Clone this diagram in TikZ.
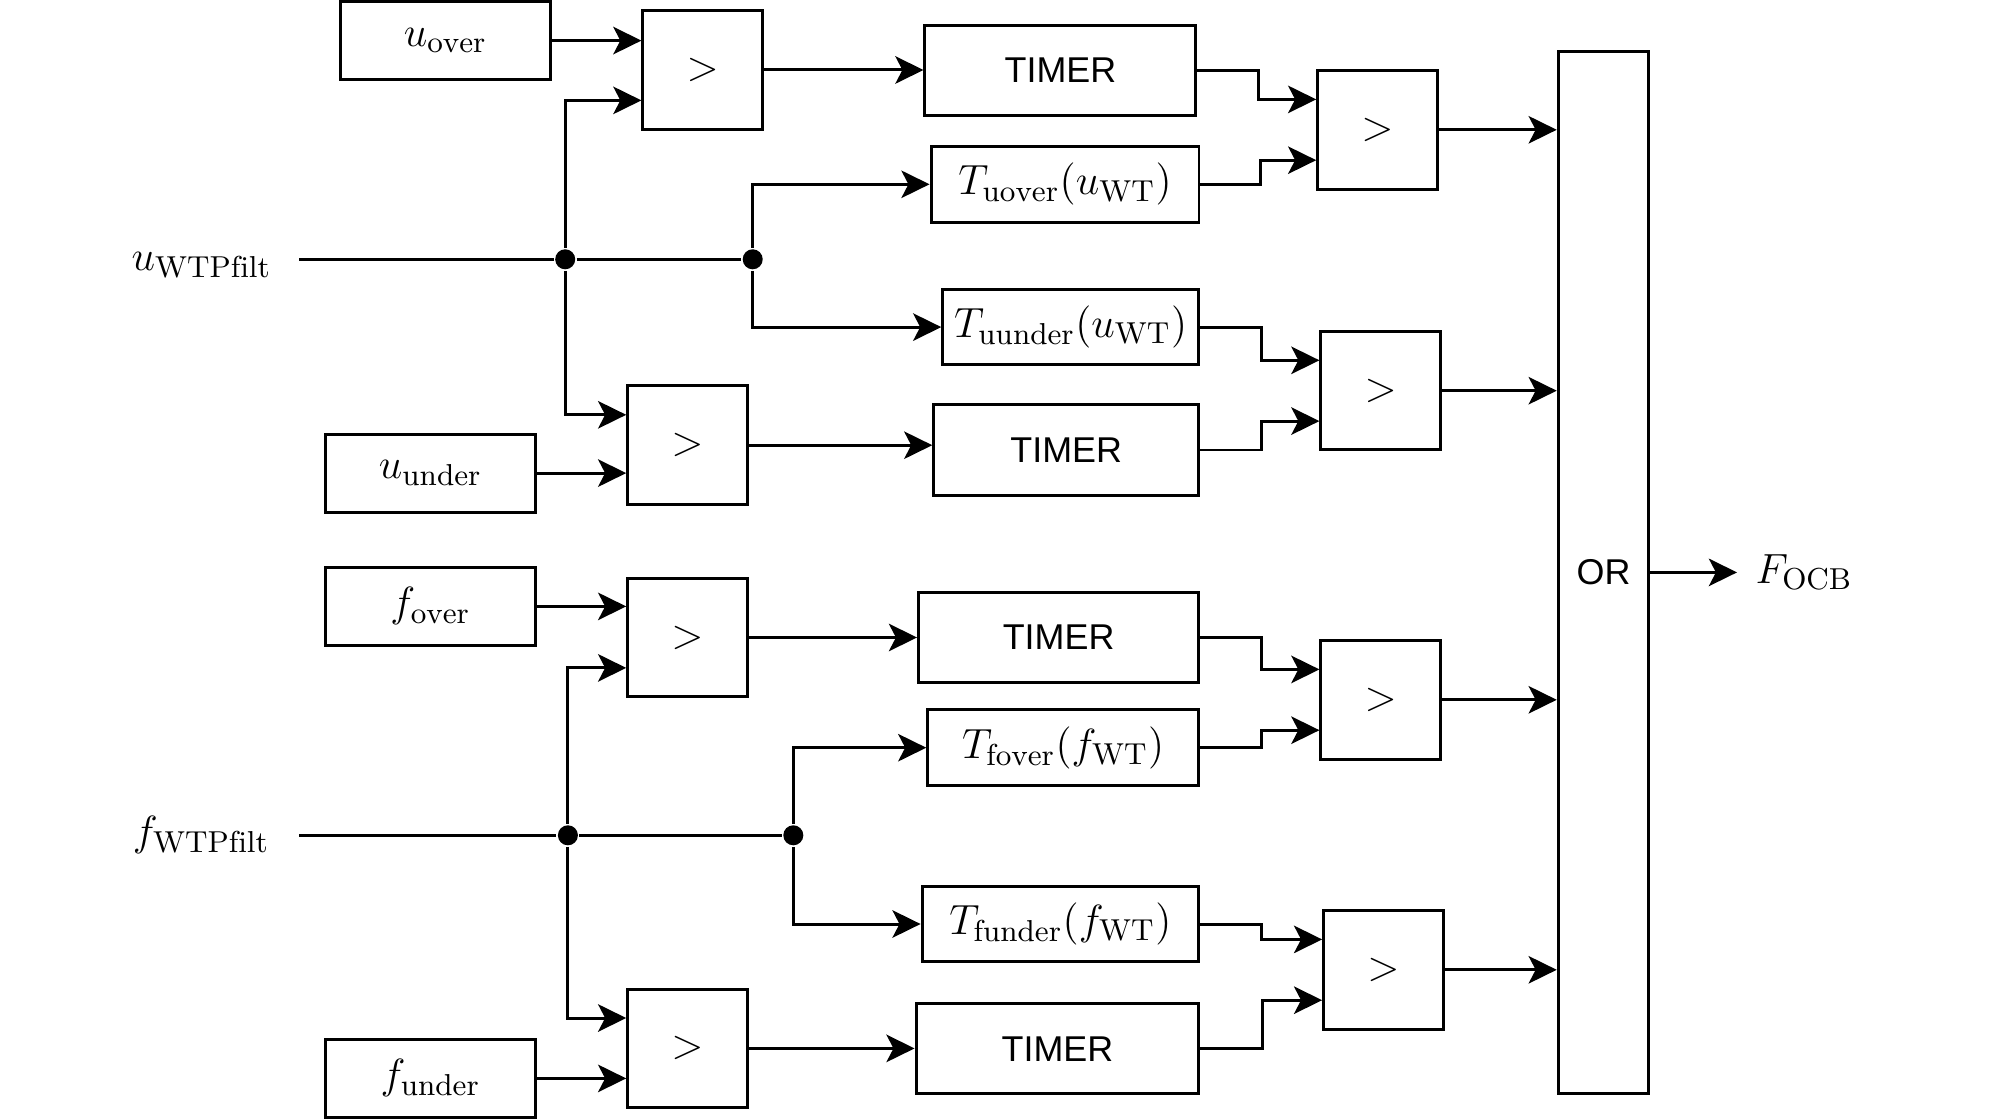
\documentclass[tikz,border=0pt]{standalone}
\usepackage{fontspec}
\setsansfont{Liberation Sans}
\usepackage{tikz}
\usetikzlibrary{arrows.meta,calc,positioning}
\tikzset{
  blk/.style={draw, inner sep=0pt, minimum width=2.1cm, minimum height=0.78cm,
    font=\fontsize{12.3}{14}\selectfont},
  cmp/.style={blk, minimum width=1.195cm, minimum height=1.185cm},
  timer/.style={blk, minimum height=0.9cm, font=\sffamily\fontsize{10.2}{12}\selectfont},
  fun/.style={blk, minimum height=0.755cm},
  dot/.style={circle, fill, inner sep=0pt, minimum size=0.2cm},
  lbl/.style={inner sep=0pt, font=\fontsize{12.3}{14}\selectfont}}

\begin{document}
\begin{tikzpicture}[x=0.01cm, y=-0.01cm, line width=0.85pt,
    >={Stealth[length=8pt, width=7.8pt, inset=2pt]}]
  \useasboundingbox (0,0) rectangle (1995,1119);
  % voltage part
  \node[blk] (u_over)  at (445.5,40.6)  {$u_{\mathrm{over}}$};
  \node[blk] (u_under) at (430.5,473.1) {$u_{\mathrm{under}}$};
  \node[cmp] (cmp_1) at (702.7,70)    {$>$};
  \node[cmp] (cmp_3) at (687.5,445.2) {$>$};
  \node[timer, minimum width=2.707cm] (tim_1) at (1060.4,70.2) {TIMER};
  \node[timer, minimum width=2.647cm] (tim_2) at (1066.2,450)  {TIMER};
  \node[fun, minimum width=2.678cm] (t_1) at (1065,184.3)   {$T_{\mathrm{uover}}(u_{\mathrm{WT}})$};
  \node[fun, minimum width=2.557cm] (t_2) at (1070.7,327.1) {$T_{\mathrm{uunder}}(u_{\mathrm{WT}})$};
  \node[cmp] (cmp_2) at (1377.5,129.8) {$>$};
  \node[cmp] (cmp_4) at (1380.7,390.7) {$>$};
  \coordinate (u_in) at (299,259.3);
  \node[dot] (j_1) at (565.2,259.3) {};
  \node[dot] (j_2) at (752.7,259.3) {};
  \node[lbl, left=0.26cm of u_in, yshift=-1.6pt] (u_wtp) {$u_{\mathrm{WTPfilt}}$};

  % frequency part
  \node[blk] (f_over)  at (430.5,606.4)  {$f_{\mathrm{over}}$};
  \node[blk] (f_under) at (430.5,1078.4) {$f_{\mathrm{under}}$};
  \node[cmp] (cmp_5) at (687.5,637.5)  {$>$};
  \node[cmp] (cmp_7) at (687.5,1048.4) {$>$};
  \node[timer, minimum width=2.8cm]   (tim_3) at (1058.6,637.5)  {TIMER};
  \node[timer, minimum width=2.825cm] (tim_4) at (1057.4,1048.8) {TIMER};
  \node[fun, minimum width=2.707cm] (t_3) at (1063.2,747.7) {$T_{\mathrm{fover}}(f_{\mathrm{WT}})$};
  \node[fun, minimum width=2.765cm] (t_4) at (1060.4,924)   {$T_{\mathrm{funder}}(f_{\mathrm{WT}})$};
  \node[cmp] (cmp_6) at (1380.7,699.8) {$>$};
  \node[cmp] (cmp_8) at (1383.4,969.8) {$>$};
  \coordinate (f_in) at (299,835.3);
  \node[dot] (j_3) at (567.9,835.3) {};
  \node[dot] (j_4) at (793.3,835.3) {};
  \node[lbl, left=0.28cm of f_in] (f_wtp) {$f_{\mathrm{WTPfilt}}$};

  % output
  \node[blk, minimum width=0.905cm, minimum height=10.414cm,
    font=\sffamily\fontsize{10.2}{12}\selectfont] (or_gate) at (1603.5,572.4) {OR};
  \coordinate (out) at (1737,572.4);
  \node[lbl, right=0.17cm of out] (f_ocb) {$F_{\mathrm{OCB}}$};

  % wires
  \draw (u_in) -- (j_1) -- (j_2);
  \draw (f_in) -- (j_3) -- (j_4);
  \draw[->] (u_over) -- (u_over -| cmp_1.west);
  \draw[->] (u_under) -- (u_under -| cmp_3.west);
  \draw[->] (f_over) -- (f_over -| cmp_5.west);
  \draw[->] (f_under) -- (f_under -| cmp_7.west);
  \draw[->] (j_1) |- ($(cmp_1.south west)!.25!(cmp_1.north west)$);
  \draw[->] (j_1) |- ($(cmp_3.north west)!.25!(cmp_3.south west)$);
  \draw[->] (j_3) |- ($(cmp_5.south west)!.25!(cmp_5.north west)$);
  \draw[->] (j_3) |- ($(cmp_7.north west)!.25!(cmp_7.south west)$);
  \draw[->] (j_2) |- (t_1);
  \draw[->] (j_2) |- (t_2);
  \draw[->] (j_4) |- (t_3);
  \draw[->] (j_4) |- (t_4);
  \draw[->] (cmp_1) -- (cmp_1 -| tim_1.west);
  \draw[->] (cmp_3) -- (cmp_3 -| tim_2.west);
  \draw[->] (cmp_5) -- (cmp_5 -| tim_3.west);
  \draw[->] (cmp_7) -- (cmp_7 -| tim_4.west);
  \draw[->] (tim_1.east) -- ++(61,0) |- ($(cmp_2.north west)!.25!(cmp_2.south west)$);
  \draw[->] (t_1.east) -- ++(60,0) |- ($(cmp_2.south west)!.25!(cmp_2.north west)$);
  \draw[->] (t_2.east) -- ++(61,0) |- ($(cmp_4.north west)!.25!(cmp_4.south west)$);
  \draw[->] (tim_2.east) -- ++(61,0) |- ($(cmp_4.south west)!.25!(cmp_4.north west)$);
  \draw[->] (tim_3.east) -- ++(61,0) |- ($(cmp_6.north west)!.25!(cmp_6.south west)$);
  \draw[->] (t_3.east) -- ++(61,0) |- ($(cmp_6.south west)!.25!(cmp_6.north west)$);
  \draw[->] (t_4.east) -- ++(61,0) |- ($(cmp_8.north west)!.25!(cmp_8.south west)$);
  \draw[->] (tim_4.east) -- ++(62,0) |- ($(cmp_8.south west)!.25!(cmp_8.north west)$);
  \draw[->] (cmp_2) -- (cmp_2 -| or_gate.west);
  \draw[->] (cmp_4) -- (cmp_4 -| or_gate.west);
  \draw[->] (cmp_6) -- (cmp_6 -| or_gate.west);
  \draw[->] (cmp_8) -- (cmp_8 -| or_gate.west);
  \draw[->] (or_gate) -- (out);
\end{tikzpicture}
\end{document}
